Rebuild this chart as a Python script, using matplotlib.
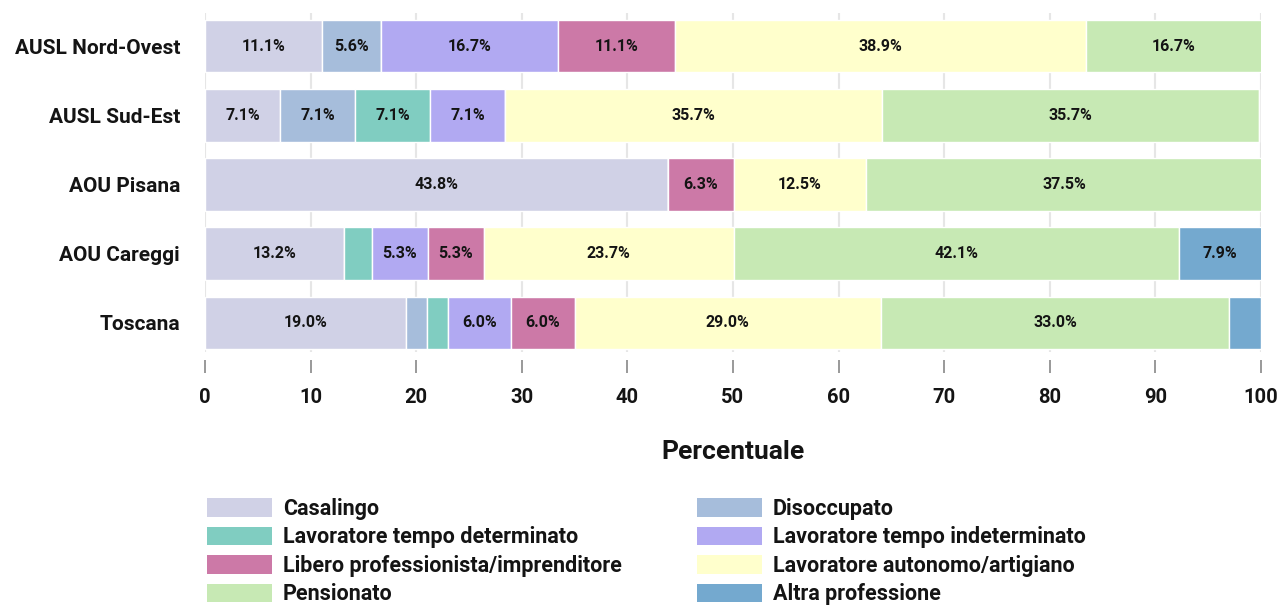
import matplotlib
matplotlib.use("Agg")
import matplotlib.pyplot as plt
from matplotlib import font_manager
from matplotlib.patches import Patch
import numpy as np

# ---- data -------------------------------------------------------------
regions = ["AUSL Nord-Ovest", "AUSL Sud-Est", "AOU Pisana", "AOU Careggi", "Toscana"]

categories = [
    "Casalingo",
    "Disoccupato",
    "Lavoratore tempo determinato",
    "Lavoratore tempo indeterminato",
    "Libero professionista/imprenditore",
    "Lavoratore autonomo/artigiano",
    "Pensionato",
    "Altra professione",
]

casalingo = [11.1, 7.1, 43.8, 13.2, 19.0]
disoccupato = [5.6, 7.1, 0.0, 0.0, 2.0]
tempo_determinato = [0.0, 7.1, 0.0, 2.6, 2.0]
tempo_indeterminato = [16.7, 7.1, 0.0, 5.3, 6.0]
libero_professionista = [11.1, 0.0, 6.3, 5.3, 6.0]
autonomo_artigiano = [38.9, 35.7, 12.5, 23.7, 29.0]
pensionato = [16.7, 35.7, 37.5, 42.1, 33.0]
altra_professione = [0.0, 0.0, 0.0, 7.9, 3.0]

series = [casalingo, disoccupato, tempo_determinato, tempo_indeterminato,
          libero_professionista, autonomo_artigiano, pensionato, altra_professione]

colors = ["#D0D1E6", "#A6BDDB", "#80CDC1", "#B1A9F2",
          "#CC79A7", "#FFFFCC", "#C7E9B4", "#74A9CF"]

xticks = [0, 10, 20, 30, 40, 50, 60, 70, 80, 90, 100]
label_threshold = 5.0

# ---- font -------------------------------------------------------------
available = {f.name for f in font_manager.fontManager.ttflist}
family = "DejaVu Sans"
for cand in ["Roboto", "Liberation Sans", "Roboto Condensed"]:
    if cand in available:
        family = cand
        break
plt.rcParams["font.family"] = [family, "DejaVu Sans"]
plt.rcParams["font.weight"] = "bold"

# ---- figure -----------------------------------------------------------
W, H = 1278, 605
fig = plt.figure(figsize=(W / 100, H / 100), dpi=100)
ax_left, ax_right, ax_top, ax_bottom = 205, 1261, 13, 352
ax = fig.add_axes([ax_left / W, 1 - ax_bottom / H,
                   (ax_right - ax_left) / W, (ax_bottom - ax_top) / H])

n = len(regions)
ypos = np.arange(n)[::-1]  # first region at the top
left = np.zeros(n)
text_color = "#141414"
for vals, col in zip(series, colors):
    vals = np.asarray(vals, dtype=float)
    ax.barh(ypos, vals, left=left, height=0.76, color=col,
            edgecolor="white", linewidth=1.0, zorder=2)
    for y, l, v in zip(ypos, left, vals):
        if v >= label_threshold:
            ax.text(l + v / 2, y, f"{v:.1f}%", ha="center", va="center",
                    fontsize=11.5, fontweight="bold", color=text_color, zorder=3)
    left += vals

ax.set_xlim(0, 100)
ax.set_ylim(-0.42, 4.48)
ax.set_xticks(xticks)
ax.set_xticklabels([str(t) for t in xticks])
ax.set_yticks(ypos)
ax.set_yticklabels(regions)

for s in ax.spines.values():
    s.set_visible(False)
ax.spines["bottom"].set_position(("outward", 6))

ax.grid(axis="x", color="#e6e6e6", linewidth=1.5, zorder=0)
ax.set_axisbelow(True)
ax.tick_params(axis="x", direction="out", length=9, width=1.2, color="#888888",
               pad=11, labelsize=14.5, labelcolor=text_color)
ax.tick_params(axis="y", length=0, pad=18, labelsize=15, labelcolor=text_color)
for lab in ax.get_xticklabels() + ax.get_yticklabels():
    lab.set_fontweight("bold")

fig.text((ax_left + ax_right) / 2 / W, 1 - 452 / H, "Percentuale",
         ha="center", va="center", fontsize=19, fontweight="bold", color=text_color)

# ---- legend: two columns filled row by row ----------------------------
handles = [Patch(facecolor=c, edgecolor="none") for c in colors]
fs = 15.5
fs_px = fs * 100 / 72
legend_kw = dict(frameon=False, handlelength=65 / fs_px, handleheight=20 / fs_px,
                 handletextpad=11 / fs_px, labelspacing=0.30, borderpad=0,
                 borderaxespad=0, loc="upper left",
                 prop={"weight": "bold", "size": fs})
for col_idx, x_px in enumerate([207, 697]):
    idx = list(range(col_idx, len(categories), 2))
    leg = fig.legend([handles[i] for i in idx], [categories[i] for i in idx],
                     bbox_to_anchor=(x_px / W, 1 - 498 / H), **legend_kw)
    for t in leg.get_texts():
        t.set_color(text_color)

fig.savefig("out.png", dpi=100)
